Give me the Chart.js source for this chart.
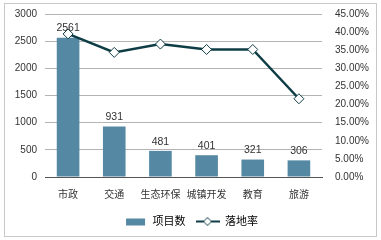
<!DOCTYPE html>
<html>
<head>
<meta charset="utf-8">
<script src="https://cdn.jsdelivr.net/npm/chart.js@4.4.1/dist/chart.umd.min.js"></script>
<style>
  body { margin: 0; background: #fff; }
  #wrap { position: relative; width: 381px; height: 240px; }
  #frame { position: absolute; left: 4px; top: 3px; width: 371px; height: 232px; border: 1px solid #c9c9c9; }
  canvas { position: absolute; left: 0; top: 0; }
</style>
</head>
<body>
<div id="wrap">
  <div id="frame"></div>
  <canvas id="chart" width="381" height="240"></canvas>
</div>
<script>
// chart data
const categories = ['市政', '交通', '生态环保', '城镇开发', '教育', '旅游'];
const projectCounts = [2561, 931, 481, 401, 321, 306];
const landingRates = [39.5, 34.4, 36.7, 35.2, 35.2, 21.6];
const countTicks = [0, 500, 1000, 1500, 2000, 2500, 3000];
const rateTicks = [0, 5, 10, 15, 20, 25, 30, 35, 40, 45];

const barColor = '#5488a3';
const lineColor = '#0f3d45';
const fontFamily = '"Liberation Sans", "Noto Sans CJK SC", sans-serif';

// little legend swatches
function makeSwatch(kind) {
  const c = document.createElement('canvas');
  c.width = 24; c.height = 12;
  const g = c.getContext('2d');
  if (kind === 'bar') {
    g.fillStyle = barColor;
    g.fillRect(3, 3, 19, 7);
  } else {
    g.strokeStyle = lineColor;
    g.lineWidth = 2;
    g.beginPath(); g.moveTo(0, 6); g.lineTo(24, 6); g.stroke();
    g.fillStyle = '#fff';
    g.lineWidth = 1;
    g.beginPath();
    g.moveTo(12, 2); g.lineTo(16, 6); g.lineTo(12, 10); g.lineTo(8, 6); g.closePath();
    g.fill(); g.stroke();
  }
  return c;
}
const barSwatch = makeSwatch('bar');
const lineSwatch = makeSwatch('line');

// numbers above bars
const barLabels = {
  id: 'barLabels',
  afterDatasetsDraw(chart) {
    const ctx = chart.ctx;
    const meta = chart.getDatasetMeta(1);
    ctx.save();
    ctx.font = '10.5px ' + fontFamily;
    ctx.fillStyle = '#333';
    ctx.textAlign = 'center';
    ctx.textBaseline = 'bottom';
    meta.data.forEach((bar, i) => {
      ctx.fillText(projectCounts[i], bar.x, bar.y - 4);
    });
    ctx.restore();
  }
};

// keep the plot area where the picture has it
function noVerticalPadding(scale) {
  scale.paddingTop = 0;
  scale.paddingBottom = 0;
}

new Chart(document.getElementById('chart'), {
  data: {
    labels: categories,
    datasets: [
      {
        type: 'line',
        label: '落地率',
        data: landingRates,
        yAxisID: 'y1',
        borderColor: lineColor,
        borderWidth: 2.5,
        pointStyle: 'rectRot',
        pointRadius: 5,
        pointBackgroundColor: '#fff',
        pointBorderColor: lineColor,
        pointBorderWidth: 1,
        tension: 0,
        order: 0
      },
      {
        type: 'bar',
        label: '项目数',
        data: projectCounts,
        yAxisID: 'y',
        backgroundColor: barColor,
        barPercentage: 1,
        categoryPercentage: 0.49,
        order: 1
      }
    ]
  },
  options: {
    responsive: false,
    animation: false,
    layout: { padding: { left: 0, right: 0, top: 14, bottom: 3 } },
    plugins: {
      tooltip: { enabled: false },
      legend: {
        position: 'bottom',
        labels: {
          usePointStyle: true,
          pointStyleWidth: 24,
          padding: 10,
          color: '#333',
          font: { size: 11, family: fontFamily },
          generateLabels() {
            return [
              { text: '项目数', pointStyle: barSwatch, fillStyle: barColor, strokeStyle: barColor, lineWidth: 0, datasetIndex: 1 },
              { text: '落地率', pointStyle: lineSwatch, fillStyle: '#fff', strokeStyle: lineColor, lineWidth: 0, datasetIndex: 0 }
            ];
          }
        }
      }
    },
    scales: {
      x: {
        grid: { display: false, drawTicks: false },
        border: { color: '#555', width: 1 },
        ticks: { color: '#333', padding: 12, autoSkip: false, font: { size: 10, family: fontFamily }, maxRotation: 0 },
        afterFit(scale) { scale.height = 29; }
      },
      y: {
        position: 'left',
        min: 0, max: 3000,
        afterBuildTicks(scale) { scale.ticks = countTicks.map(v => ({ value: v })); },
        grid: { color: '#b4b4b4', drawTicks: false },
        border: { display: false },
        ticks: { color: '#333', padding: 8, font: { size: 10, family: fontFamily }, callback: v => String(v) },
        afterFit(scale) { scale.width = 45; noVerticalPadding(scale); }
      },
      y1: {
        position: 'right',
        min: 0, max: 45,
        afterBuildTicks(scale) { scale.ticks = rateTicks.map(v => ({ value: v })); },
        grid: { display: false, drawTicks: false },
        border: { display: false },
        ticks: {
          color: '#333', padding: 13, font: { size: 10, family: fontFamily },
          callback: v => v.toFixed(2) + '%'
        },
        afterFit(scale) { scale.width = 59; noVerticalPadding(scale); }
      }
    }
  },
  plugins: [barLabels]
});
</script>
</body>
</html>
